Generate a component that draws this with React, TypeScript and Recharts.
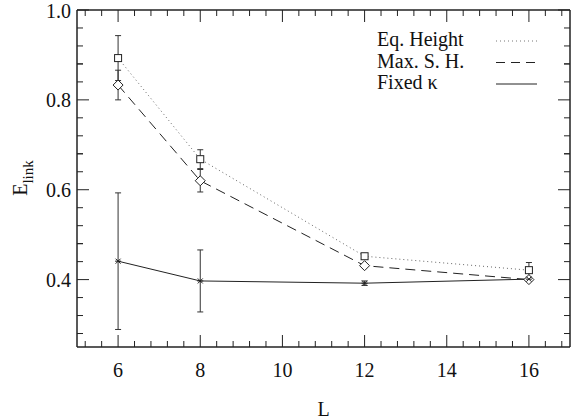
import React from "react";
import { LineChart, Line, XAxis, YAxis, ErrorBar, Legend, Label } from "recharts";

// chain length L and the three estimates of E_link
const L = [6, 8, 12, 16];
const eqHeight = [0.893, 0.668, 0.452, 0.421];
const eqHeightErr = [0.05, 0.021, 0.004, 0.017];
const maxSH = [0.833, 0.62, 0.431, 0.4];
const maxSHErr = [0.033, 0.025, 0.003, 0.004];
const fixedKappa = [0.441, 0.397, 0.392, 0.401];
const fixedKappaErr = [0.152, 0.069, 0.005, 0.004];

const xMajorTicks = [6, 8, 10, 12, 14, 16];
const yMajorTicks = [0.4, 0.6, 0.8, 1.0];
const legendLabels = ["Eq. Height", "Max. S. H.", "Fixed κ"];

const data = L.map((l, i) => ({
  L: l,
  eq: eqHeight[i],
  eqErr: eqHeightErr[i],
  max: maxSH[i],
  maxErr: maxSHErr[i],
  fixed: fixedKappa[i],
  fixedErr: fixedKappaErr[i],
}));

// minor ticks: x every 0.4, y every 0.04, between the majors
const xTicks: number[] = [];
xMajorTicks.forEach((m) => [-0.8, -0.4, 0, 0.4, 0.8].forEach((d) => xTicks.push(+(m + d).toFixed(1))));
const yTicks: number[] = [];
yMajorTicks.forEach((m) =>
  [-0.12, -0.08, -0.04, 0, 0.04, 0.08].forEach((d) => {
    const v = +(m + d).toFixed(2);
    if (v >= 0.25 && v <= 1.0) yTicks.push(v);
  })
);

const FONT = "Liberation Serif, DejaVu Serif, serif";
const txt = { fontFamily: FONT, fontSize: 20 };
const INK = "#222";
const MAJOR = 12;
const MINOR = 6;

const isXMajor = (v: number) => xMajorTicks.some((m) => Math.abs(m - v) < 1e-6);
const isYMajor = (v: number) => yMajorTicks.some((m) => Math.abs(m - v) < 1e-6);

const XTick = ({ x, y, payload, top }: any) => {
  const major = isXMajor(payload.value);
  const len = major ? MAJOR : MINOR;
  return (
    <g>
      <line x1={x} y1={y} x2={x} y2={top ? y + len : y - len} stroke={INK} strokeWidth={1} />
      {!top && major && (
        <text x={x} y={y + 30} textAnchor="middle" style={txt} fill="#111">
          {payload.value}
        </text>
      )}
    </g>
  );
};

const YTick = ({ x, y, payload, right }: any) => {
  const major = isYMajor(payload.value);
  const len = major ? MAJOR : MINOR;
  return (
    <g>
      <line x1={x} y1={y} x2={right ? x - len : x + len} y2={y} stroke={INK} strokeWidth={1} />
      {!right && major && (
        <text x={x - 6} y={y + 7.5} textAnchor="end" style={txt} fill="#111">
          {payload.value.toFixed(1)}
        </text>
      )}
    </g>
  );
};

const Square = (p: any) => (
  <rect key={`sq-${p.index}`} x={p.cx - 3.5} y={p.cy - 3.5} width={7} height={7} fill="#fff" stroke={INK} strokeWidth={1} />
);

const Diamond = (p: any) => (
  <path
    key={`dm-${p.index}`}
    d={`M${p.cx},${p.cy - 5}L${p.cx + 5},${p.cy}L${p.cx},${p.cy + 5}L${p.cx - 5},${p.cy}Z`}
    fill="#fff"
    stroke={INK}
    strokeWidth={1}
  />
);

const Star = (p: any) => (
  <path
    key={`st-${p.index}`}
    d={`M${p.cx - 2.5},${p.cy - 2.5}L${p.cx + 2.5},${p.cy + 2.5}M${p.cx - 2.5},${p.cy + 2.5}L${p.cx + 2.5},${p.cy - 2.5}M${p.cx - 3},${p.cy}L${p.cx + 3},${p.cy}`}
    stroke={INK}
    strokeWidth={1}
    fill="none"
  />
);

const legendDash = ["1 3", "9 6", undefined];
const legendStroke = ["#777", INK, INK];

const KeyBox = () => (
  <svg width={571} height={100} style={{ display: "block" }}>
    {legendLabels.map((t, i) => {
      const base = [46, 67.5, 89][i];
      return (
        <g key={t}>
          <text x={377} y={base} style={txt} fill="#111">
            {t}
          </text>
          <line x1={496} x2={537} y1={base - 5} y2={base - 5} stroke={legendStroke[i]} strokeWidth={1} strokeDasharray={legendDash[i]} />
        </g>
      );
    })}
  </svg>
);

export default function App() {
  return (
    <div style={{ position: "absolute", left: 0, top: 0, background: "#fff", fontFamily: FONT }}>
      <LineChart width={571} height={419} data={data} margin={{ top: 9, right: 0, bottom: 0, left: 0 }}>
        <XAxis
          dataKey="L"
          type="number"
          domain={[5, 17]}
          ticks={xTicks}
          interval={0}
          allowDataOverflow
          height={72}
          tickSize={0}
          tickMargin={0}
          tickLine={false}
          axisLine={{ stroke: INK, strokeWidth: 1.5 }}
          tick={<XTick />}
        >
          <Label
            content={({ viewBox }: any) => (
              <text x={viewBox.x + viewBox.width / 2} y={viewBox.y + 69} textAnchor="middle" style={txt} fill="#111">
                L
              </text>
            )}
          />
        </XAxis>
        <XAxis
          xAxisId="top"
          orientation="top"
          dataKey="L"
          type="number"
          domain={[5, 17]}
          ticks={xTicks}
          interval={0}
          allowDataOverflow
          height={1}
          tickSize={0}
          tickMargin={0}
          tickLine={false}
          axisLine={{ stroke: INK, strokeWidth: 1.5 }}
          tick={<XTick top />}
        />
        <YAxis
          type="number"
          domain={[0.25, 1.0]}
          ticks={yTicks}
          interval={0}
          allowDataOverflow
          width={77}
          tickSize={0}
          tickMargin={0}
          tickLine={false}
          axisLine={{ stroke: INK, strokeWidth: 1.5 }}
          tick={<YTick />}
        >
          <Label
            content={() => (
              <text x={27} y={178} transform="rotate(-90 27 178)" textAnchor="middle" style={txt} fill="#111">
                E
                <tspan style={{ fontSize: 15 }} dy={6}>
                  link
                </tspan>
              </text>
            )}
          />
        </YAxis>
        <YAxis
          yAxisId="right"
          orientation="right"
          type="number"
          domain={[0.25, 1.0]}
          ticks={yTicks}
          interval={0}
          allowDataOverflow
          width={1}
          tickSize={0}
          tickMargin={0}
          tickLine={false}
          axisLine={{ stroke: INK, strokeWidth: 1.5 }}
          tick={<YTick right />}
        />
        <Legend
          layout="horizontal"
          verticalAlign="middle"
          align="center"
          wrapperStyle={{ left: 0, top: 0, width: 571, height: 100 }}
          content={() => <KeyBox />}
        />
        <Line dataKey="eq" stroke="#666" strokeWidth={1} strokeDasharray="1 3" dot={Square} isAnimationActive={false}>
          <ErrorBar dataKey="eqErr" direction="y" width={3} stroke="#333" strokeWidth={1} />
        </Line>
        <Line dataKey="max" stroke={INK} strokeWidth={1} strokeDasharray="10 6" dot={Diamond} isAnimationActive={false}>
          <ErrorBar dataKey="maxErr" direction="y" width={3} stroke="#333" strokeWidth={1} />
        </Line>
        <Line dataKey="fixed" stroke={INK} strokeWidth={1} dot={Star} isAnimationActive={false}>
          <ErrorBar dataKey="fixedErr" direction="y" width={3} stroke="#333" strokeWidth={1} />
        </Line>
      </LineChart>
    </div>
  );
}
